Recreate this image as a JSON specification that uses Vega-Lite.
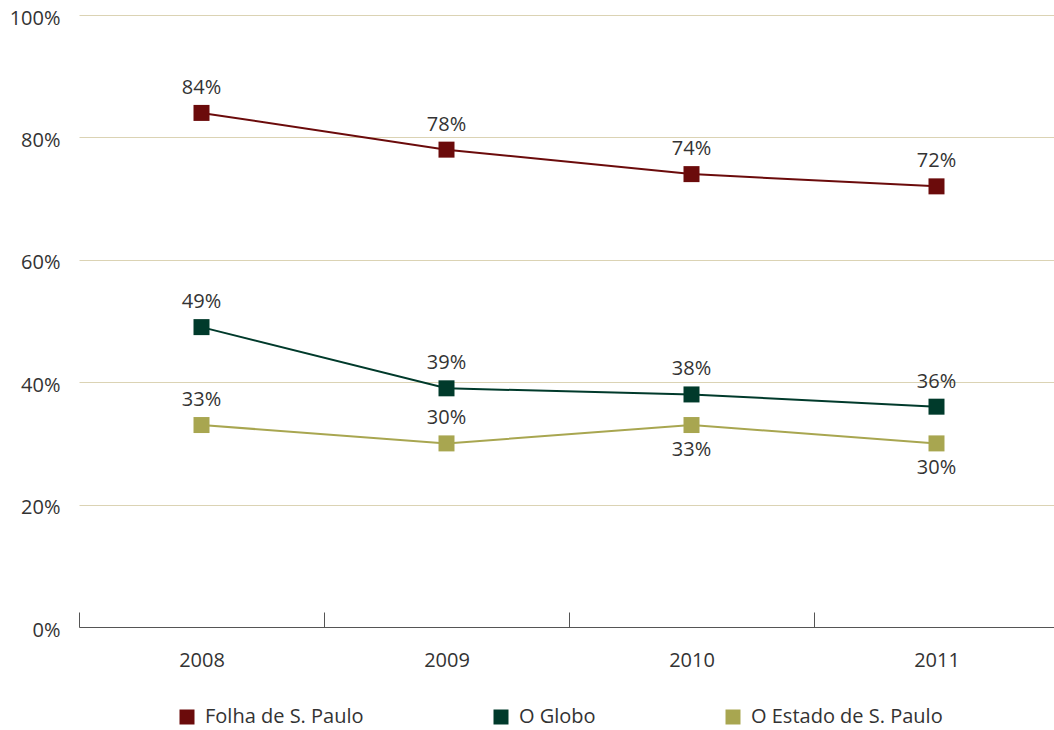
{
  "$schema": "https://vega.github.io/schema/vega-lite/v6.json",
  "width": 980,
  "height": 612,
  "autosize": {"type": "none"},
  "padding": {"left": 79, "top": 15, "right": 0, "bottom": 103},
  "background": "white",
  "config": {
    "view": {"stroke": null},
    "font": "Open Sans",
    "text": {"font": "Open Sans"}
  },
  "data": {
    "values": [
      {"year": "2008", "series": "Folha de S. Paulo", "value": 0.84},
      {"year": "2009", "series": "Folha de S. Paulo", "value": 0.78},
      {"year": "2010", "series": "Folha de S. Paulo", "value": 0.74},
      {"year": "2011", "series": "Folha de S. Paulo", "value": 0.72},
      {"year": "2008", "series": "O Globo", "value": 0.49},
      {"year": "2009", "series": "O Globo", "value": 0.39},
      {"year": "2010", "series": "O Globo", "value": 0.38},
      {"year": "2011", "series": "O Globo", "value": 0.36},
      {"year": "2008", "series": "O Estado de S. Paulo", "value": 0.33},
      {"year": "2009", "series": "O Estado de S. Paulo", "value": 0.30},
      {"year": "2010", "series": "O Estado de S. Paulo", "value": 0.33},
      {"year": "2011", "series": "O Estado de S. Paulo", "value": 0.30}
    ]
  },
  "encoding": {
    "x": {
      "field": "year", "type": "ordinal", "title": null,
      "scale": {"type": "band", "paddingInner": 0, "paddingOuter": 0},
      "axis": {
        "labelAngle": 0, "labelFontSize": 20, "labelColor": "#333333", "labelFont": "Open Sans",
        "tickBand": "extent", "tickSize": -15, "tickColor": "#555555", "domainColor": "#555555",
        "labelPadding": 48, "labelBaseline": "middle", "grid": false
      }
    },
    "y": {
      "field": "value", "type": "quantitative", "title": null,
      "scale": {"domain": [0, 1], "nice": false},
      "axis": {
        "values": [0, 0.2, 0.4, 0.6, 0.8, 1], "format": ".0%",
        "labelFontSize": 20, "labelColor": "#333333", "labelFont": "Open Sans",
        "labelPadding": 19, "labelOffset": 3, "ticks": false, "domain": false,
        "grid": true, "gridColor": "#dbd3b4", "gridWidth": 1
      }
    },
    "color": {
      "field": "series", "type": "nominal",
      "scale": {
        "domain": ["Folha de S. Paulo", "O Globo", "O Estado de S. Paulo"],
        "range": ["#6b0b0b", "#003a2b", "#a8a650"]
      },
      "legend": {
        "title": null, "orient": "none", "direction": "horizontal",
        "legendX": 98, "legendY": 692,
        "symbolType": "square", "symbolSize": 225, "symbolStrokeWidth": 0, "symbolOpacity": 1,
        "labelFontSize": 20, "labelColor": "#333333", "labelFont": "Open Sans", "labelLimit": 400,
        "columnPadding": 127, "labelOffset": 8
      }
    }
  },
  "layer": [
    {"mark": {"type": "line", "strokeWidth": 2}, "encoding": {}},
    {"mark": {"type": "square", "size": 256, "opacity": 1, "filled": true}, "encoding": {}},
    {
      "transform": [{"filter": "!(datum.series === 'O Estado de S. Paulo' && (datum.year === '2010' || datum.year === '2011'))"}],
      "mark": {"type": "text", "dy": -25, "fontSize": 20, "color": "#333333", "baseline": "middle"},
      "encoding": {"text": {"field": "value", "format": ".0%"}, "color": {"value": "#333333"}}
    },
    {
      "transform": [{"filter": "datum.series === 'O Estado de S. Paulo' && (datum.year === '2010' || datum.year === '2011')"}],
      "mark": {"type": "text", "dy": 25, "fontSize": 20, "color": "#333333", "baseline": "middle"},
      "encoding": {"text": {"field": "value", "format": ".0%"}, "color": {"value": "#333333"}}
    }
  ]
}
